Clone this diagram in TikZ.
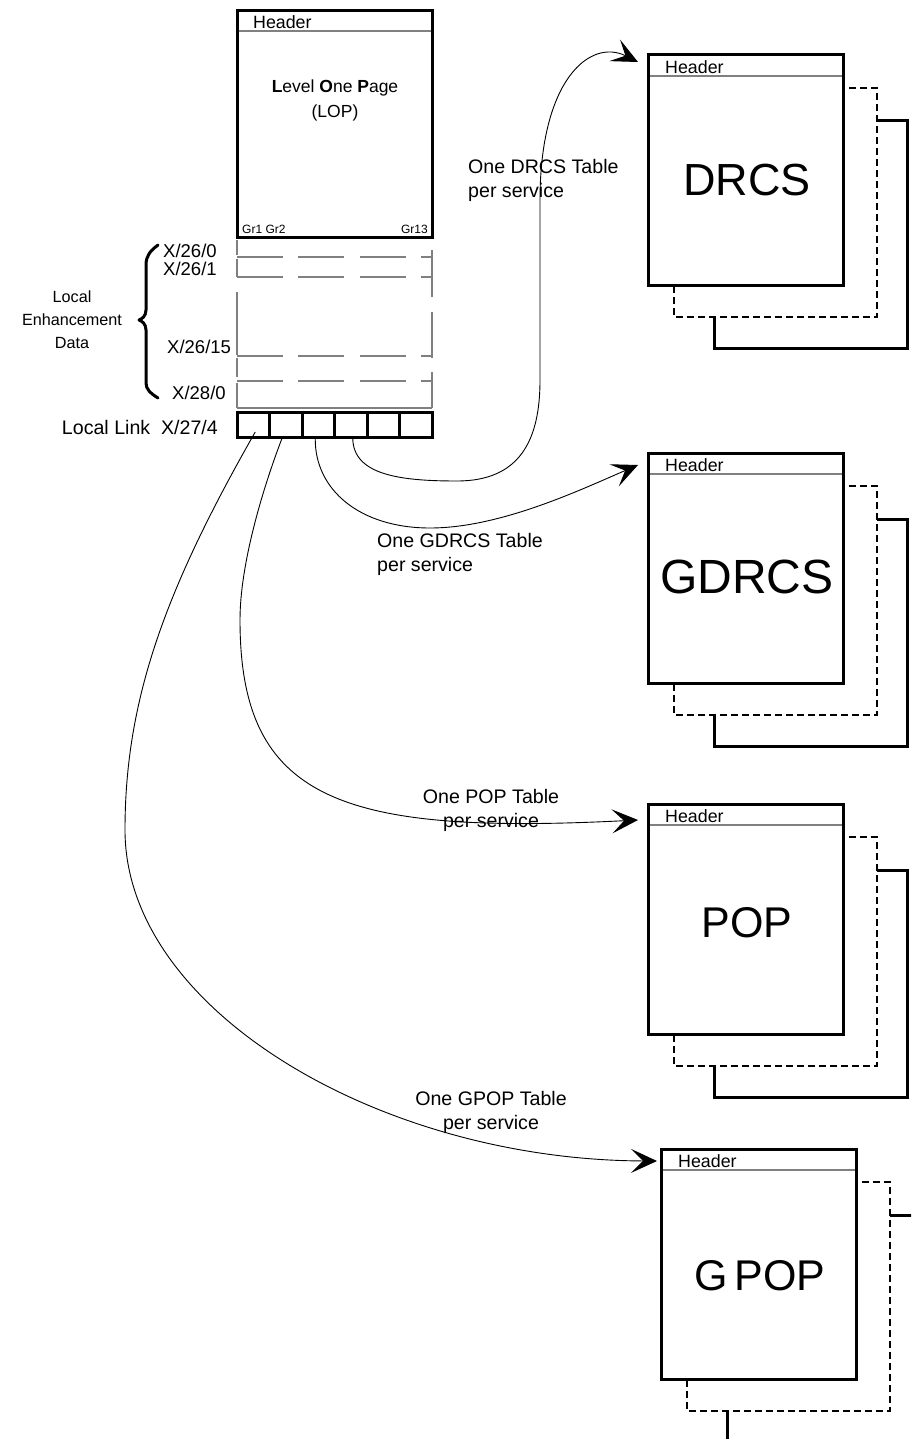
\documentclass[tikz,border=0pt]{standalone}
\usepackage{fontspec}
\setmainfont{Liberation Sans}
\usetikzlibrary{arrows.meta,calc}
\begin{document}
\begin{tikzpicture}[x=1pt,y=-1pt,
  boldbox/.style={draw, line width=3pt, inner sep=0pt, outer sep=0pt, anchor=north west},
  mainpage/.style={boldbox, fill=white, minimum width=195pt, minimum height=230pt},
  dashpage/.style={draw, line width=2.6pt, dash pattern=on 7pt off 4pt, fill=white},
  backpage/.style={draw, line width=3pt},
  hdrline/.style={draw=gray, line width=1.2pt},
  grayline/.style={draw=gray, line width=1.2pt},
  gdash/.style={grayline, dash pattern=on 46pt off 15.3pt},
  linkcell/.style={boldbox, minimum width=32.5pt, minimum height=25pt},
  conn/.style={draw, line width=0.9pt, -{Stealth[length=26pt,width=24pt,inset=12pt]}},
  hfont/.style={font=\fontsize{17.8}{20}\selectfont, inner sep=0pt},
  xlbl/.style={font=\fontsize{18.5}{23.5}\selectfont, inner sep=0pt},
  lbl/.style={font=\fontsize{19.6}{24}\selectfont, inner sep=0pt},
  big/.style={font=\fontsize{45}{50}\selectfont, inner sep=0pt},
]
\useasboundingbox (0,0) rectangle (911,1439);
\clip (0,0) rectangle (911,1439);

\newcommand{\pagestack}[5]{%
  \draw[backpage] (#2+66,#3+66) rectangle (#2+259,#3+293);
  \draw[dashpage] (#2+26,#3+33) rectangle (#2+229,#3+262);
  \node[mainpage] (#1) at (#2,#3) {};
  \draw[hdrline] ($(#1.north west)+(1.5,21)$) -- ($(#1.north east)+(-1.5,21)$);
  \node[hfont, anchor=west] (#1h) at ($(#1.north west)+(17,12)$) {Header};
  \node[big] (#1l) at ($(#1.north west)+(99,#5)$) {#4};
}

% ---------- Level One Page ----------
\node[boldbox, fill=white, minimum width=195pt, minimum height=227pt] (lop) at (237,11) {};
\draw[hdrline] ($(lop.north west)+(1.5,20)$) -- ($(lop.north east)+(-1.5,20)$);
\node[hfont, anchor=west] (loph) at (253,22) {Header};
\node[font=\fontsize{17.5}{25}\selectfont, align=center, inner sep=0pt] (lopt) at (335,100)
  {\textbf{L}evel \textbf{O}ne \textbf{P}age\\(LOP)};
\node[font=\fontsize{12}{14}\selectfont, anchor=west, inner sep=0pt] (gr1) at (242,229) {Gr1 Gr2};
\node[font=\fontsize{12}{14}\selectfont, anchor=east, inner sep=0pt] (gr13) at (428,229) {Gr13};

% ---------- enhancement data rows ----------
\foreach \yy in {257,277,356,381} \draw[gdash] (237,\yy) -- (432,\yy);
\draw[grayline] (237,408) -- (432,408);
\foreach \a/\b in {240/255,259/277,292/355,358/377,383/408} \draw[grayline] (237,\a) -- (237,\b);
\foreach \a/\b in {250/297,312/358,372/408} \draw[grayline] (432,\a) -- (432,\b);

\node[xlbl, anchor=west] (x260) at (163,251) {X/26/0};
\node[xlbl, anchor=west] (x261) at (163,269) {X/26/1};
\node[xlbl, anchor=west] (x2615) at (167,347) {X/26/15};
\node[xlbl, anchor=west] (x280) at (172,393) {X/28/0};
\node[lbl, anchor=east] (llink) at (218,427) {Local Link\ \ X/27/4};
\node[font=\fontsize{16.2}{23}\selectfont, inner sep=0pt, align=center] (led) at (72,320) {Local\\Enhancement\\Data};

\draw[line width=3pt, line join=round, line cap=round]
  (158,245) .. controls (150,251) and (146,256) .. (146,265) -- (146,310)
  .. controls (146,316) and (142,319) .. (139,320)
  .. controls (142,321) and (146,324) .. (146,330) -- (146,383)
  .. controls (146,389) and (150,393) .. (158,398);

% ---------- local link cells ----------
\foreach \i in {1,...,6} \node[linkcell] (l\i) at ({237+32.5*(\i-1)},412) {};

% ---------- table stacks ----------
\pagestack{drcs}{648}{55}{DRCS}{125}
\pagestack{gdrcs}{648}{453}{\fontsize{48}{50}\selectfont GDRCS}{124}
\pagestack{pop}{648}{804}{\fontsize{43}{50}\selectfont POP}{119}
\pagestack{gpop}{661}{1149}{\fontsize{43}{50}\selectfont G\hspace{0.15em}POP}{127}

% ---------- connectors ----------
\coordinate (s1) at ($(l1.south)+(2,-5)$);
\coordinate (s2) at ($(l2.south)+(-4,2)$);
\coordinate (s3) at ($(l3.south)+(-3,2)$);
\coordinate (s4) at ($(l4.south)+(2,1)$);
\coordinate (t1) at ($(drcs.north west)+(-10,7)$);
\coordinate (t2) at ($(gdrcs.north west)+(-10,12)$);
\coordinate (t3) at ($(pop.north west)+(-10,16)$);
\coordinate (t4) at ($(gpop.north west)+(-4,12)$);

\draw[conn] (s4) .. controls (353,475) and (400,481) .. (457,481)
  .. controls (520,481) and (540,440) .. (540,380) -- (540,200)
  .. controls (540,80) and (590,38) .. (t1);
\draw[conn] (s3) .. controls (315,490) and (360,528) .. (430,528)
  .. controls (500,528) and (580,490) .. (t2);
\draw[conn] (s2) .. controls (266,480) and (240,560) .. (240,620)
  .. controls (240,800) and (340,835) .. (t3);
\draw[conn] (s1) .. controls (165,590) and (125,700) .. (125,830)
  .. controls (125,1010) and (380,1160) .. (t4);

% ---------- connector labels ----------
\node[lbl, anchor=west, align=left] (ldrcs) at (468,180) {One DRCS Table\\per service};
\node[lbl, anchor=west, align=left] (lgdrcs) at (377,554) {One GDRCS Table\\per service};
\node[lbl, align=center] (lpop) at (491,810) {One POP Table\\per service};
\node[lbl, align=center] (lgpop) at (491,1112) {One GPOP Table\\per service};
\end{tikzpicture}
\end{document}
